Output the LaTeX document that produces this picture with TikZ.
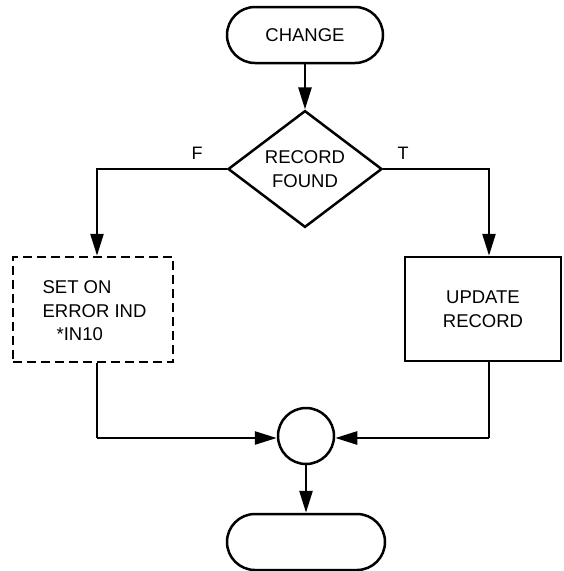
\documentclass[tikz,border=0pt]{standalone}
\usepackage{fontspec}
\setmainfont{Liberation Sans}
\usetikzlibrary{shapes.geometric,arrows.meta}
\begin{document}
\begin{tikzpicture}[x=1pt,y=-1pt,
  every node/.style={font=\fontsize{18.5}{23.5}\selectfont, line width=2.5pt},
  term/.style={draw, rectangle, rounded corners=28pt, minimum width=156pt, minimum height=56pt, inner sep=0pt},
  dec/.style={draw, diamond, minimum width=154pt, minimum height=105pt, inner sep=0pt, align=center},
  proc/.style={draw, rectangle, inner sep=0pt, align=center},
  conn/.style={draw, circle, minimum size=56pt, inner sep=0pt},
  flow/.style={line width=2.6pt, -{Triangle[length=22pt,width=13pt]}},
  plain/.style={line width=2.6pt},
  lbl/.style={font=\fontsize{18}{20}\selectfont}]
\useasboundingbox (0,0) rectangle (563,571);
\node[term] (change) at (305,35) {CHANGE};
\node[dec] (found) at (305,169) {RECORD\\FOUND};
\node[proc, dashed, dash pattern=on 9pt off 5pt, minimum width=160pt, minimum height=105pt] (err) at (93,309.5) {};
\node[align=left, anchor=west] (errtxt) at (38,311) {SET ON\\ERROR IND\\\hspace*{14pt}*IN10};
\node[proc, minimum width=156pt, minimum height=104pt] (upd) at (483,309) {UPDATE\\RECORD};
\node[conn] (join) at (306,436) {};
\node[term, minimum width=158pt] (end) at (306,542) {};
\node[lbl] (F) at (197,153) {F};
\node[lbl] (T) at (403,153) {T};
\coordinate (lc) at (97,169);
\coordinate (rc) at (489,169);
\coordinate (ld) at (97,438);
\coordinate (rd) at (489,438);
\draw[flow] (change) -- (found.north);
\draw[flow] (found.west) -- (lc) -- (err.north -| lc);
\draw[flow] (found.east) -- (rc) -- (upd.north -| rc);
\draw[plain] (err.south -| ld) -- (ld);
\draw[flow] (ld) -- (join.west |- ld);
\draw[plain] (upd.south -| rd) -- (rd);
\draw[flow] (rd) -- (join.east |- rd);
\draw[flow] (join) -- (end.north);
\end{tikzpicture}
\end{document}
